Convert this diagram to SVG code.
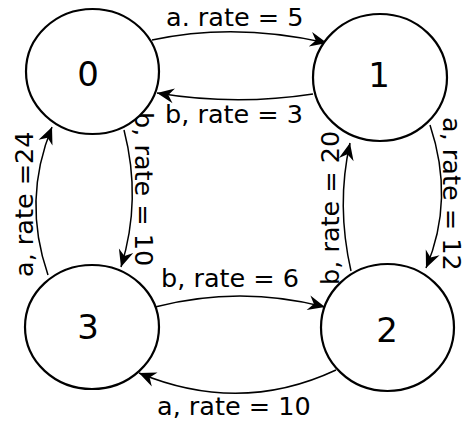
<svg xmlns="http://www.w3.org/2000/svg" width="467" height="422" viewBox="0 0 467 422">
  <style>
    .state ellipse { fill: #ffffff; stroke: #000000; stroke-width: 2.2; }
    .state text { font-family: "DejaVu Sans", sans-serif; font-size: 34px; fill: #000000; text-anchor: middle; }
    .edge { fill: none; stroke: #000000; stroke-width: 1.5; marker-end: url(#arrow); }
    .lbl { font-family: "DejaVu Sans", sans-serif; font-size: 25.5px; fill: #000000; }
  </style>
  <defs>
    <marker id="arrow" markerUnits="userSpaceOnUse" viewBox="-18 -9 19 18" refX="0" refY="0" markerWidth="19" markerHeight="18" orient="auto">
      <path d="M0,0 L-17,-7.5 L-11.5,0 L-17,7.5 Z" fill="#000000"/>
    </marker>
  </defs>
  <rect width="467" height="422" fill="#ffffff"/>

  <!-- transitions between states -->
  <g id="connectors">
    <path class="edge" d="M152,40 Q235,22 327,43"/>
    <path class="edge" d="M313,94 Q235,106 157,93"/>
    <path class="edge" d="M124,130 Q142,200 121,267"/>
    <path class="edge" d="M48,275 Q22,200 52,127"/>
    <path class="edge" d="M155,307 Q240,285 325,307"/>
    <path class="edge" d="M336,370 Q240,415 139,373"/>
    <path class="edge" d="M351,271 Q336,205 350,143"/>
    <path class="edge" d="M430,125 Q455,200 426,268"/>
    <text class="lbl" x="166" y="26">a. rate = 5</text>
    <text class="lbl" x="165" y="123">b, rate = 3</text>
    <text class="lbl" x="161" y="287">b, rate = 6</text>
    <text class="lbl" x="157" y="415">a, rate = 10</text>
    <text class="lbl" transform="translate(33,277) rotate(-90)">a, rate =24</text>
    <text class="lbl" transform="translate(135,112) rotate(90)">b, rate = 10</text>
    <text class="lbl" transform="translate(339,285) rotate(-90)">b, rate = 20</text>
    <text class="lbl" transform="translate(443,117) rotate(90)" font-size="25">a, rate = 12</text>
  </g>

  <!-- states -->
  <g id="state0" class="state">
    <ellipse cx="92.5" cy="71.5" rx="66.5" ry="62.5"/>
    <text x="88" y="86">0</text>
  </g>
  <g id="state1" class="state">
    <ellipse cx="380" cy="77.5" rx="67" ry="63.5"/>
    <text x="379" y="87">1</text>
  </g>
  <g id="state2" class="state">
    <ellipse cx="387.5" cy="327.5" rx="66.5" ry="63.5"/>
    <text x="387" y="342">2</text>
  </g>
  <g id="state3" class="state">
    <ellipse cx="92" cy="327" rx="67" ry="62"/>
    <text x="88" y="339">3</text>
  </g>
</svg>
